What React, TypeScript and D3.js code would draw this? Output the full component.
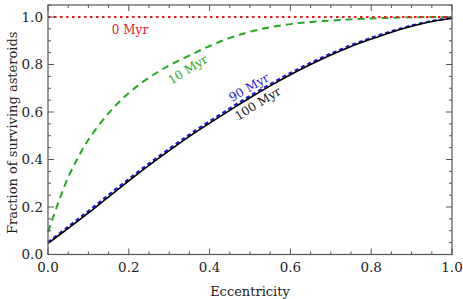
import React from "react";
import * as d3 from "d3";

const ecc = [0, 0.05, 0.1, 0.15, 0.2, 0.25, 0.3, 0.35, 0.4, 0.45, 0.5, 0.55, 0.6, 0.65, 0.7, 0.75, 0.8, 0.85, 0.9, 0.95, 1.0];
const myr0 = [1, 1, 1, 1, 1, 1, 1, 1, 1, 1, 1, 1, 1, 1, 1, 1, 1, 1, 1, 1, 1];
const eccGreen = [0, 0.025, 0.05, 0.075, 0.1, 0.15, 0.2, 0.25, 0.3, 0.35, 0.4, 0.45, 0.5, 0.55, 0.6, 0.65, 0.7, 0.75, 0.8, 0.85, 0.9, 0.95, 1.0];
const myr10 = [0.095, 0.216, 0.325, 0.41, 0.483, 0.595, 0.68, 0.745, 0.796, 0.838, 0.878, 0.912, 0.938, 0.957, 0.97, 0.979, 0.985, 0.99, 0.994, 0.997, 0.999, 1.0, 1.0];
const myr90 = [0.052, 0.117, 0.183, 0.251, 0.318, 0.383, 0.445, 0.505, 0.561, 0.615, 0.668, 0.717, 0.764, 0.807, 0.846, 0.881, 0.912, 0.94, 0.964, 0.983, 0.996];
const myr100 = [0.047, 0.11, 0.175, 0.243, 0.31, 0.375, 0.437, 0.497, 0.553, 0.607, 0.66, 0.71, 0.757, 0.8, 0.84, 0.876, 0.907, 0.936, 0.961, 0.981, 0.995];
const xTicks = [0, 0.2, 0.4, 0.6, 0.8, 1.0];
const yTicks = [0, 0.2, 0.4, 0.6, 0.8, 1.0];

const W = 463, H = 299;
const M = { left: 48, right: 452, top: 5, bottom: 254.5 };
const FONT = "DejaVu Serif";

export default function App() {
  const x = d3.scaleLinear().domain([0, 1]).range([M.left, M.right]);
  const y = d3.scaleLinear().domain([0, 1]).range([M.bottom, 17]);
  const line = d3.line<[number, number]>().x(d => x(d[0])).y(d => y(d[1])).curve(d3.curveCatmullRom.alpha(0.5));
  const zip = (xs: number[], ys: number[]) => xs.map((v, i) => [v, ys[i]] as [number, number]);
  const minorX = d3.range(0, 1.0001, 0.05);
  const minorY = d3.range(0, 1.0501, 0.05);
  const axisColor = "#555";
  return (
    <svg width={W} height={H} style={{ position: "absolute", left: 0, top: 0, background: "#fff" }} fontFamily={FONT}>
      <path d={line(zip(ecc, myr90)) || ""} fill="none" stroke="#1a1adc" strokeWidth={2.2} strokeDasharray="4,3" />
      <path d={line(zip(ecc, myr100)) || ""} fill="none" stroke="#000" strokeWidth={1.6} />
      <path d={line(zip(eccGreen, myr10)) || ""} fill="none" stroke="#22a822" strokeWidth={2} strokeDasharray="7,5" />
      <path d={line(zip(ecc, myr0)) || ""} fill="none" stroke="#e8191c" strokeWidth={2.2} strokeDasharray="2.5,3.5" />
      <rect x={M.left} y={M.top} width={M.right - M.left} height={M.bottom - M.top} fill="none" stroke={axisColor} strokeWidth={1.2} />
      {minorX.map((t, i) => {
        const major = Math.abs(t * 5 - Math.round(t * 5)) < 1e-6;
        const len = major ? 6 : 3;
        return (
          <g key={"x" + i} stroke={axisColor} strokeWidth={1}>
            <line x1={x(t)} x2={x(t)} y1={M.bottom} y2={M.bottom - len} />
            <line x1={x(t)} x2={x(t)} y1={M.top} y2={M.top + len} />
          </g>
        );
      })}
      {minorY.map((t, i) => {
        const major = Math.abs(t * 5 - Math.round(t * 5)) < 1e-6;
        const len = major ? 6 : 3;
        if (y(t) < M.top) return null;
        return (
          <g key={"y" + i} stroke={axisColor} strokeWidth={1}>
            <line x1={M.left} x2={M.left + len} y1={y(t)} y2={y(t)} />
            <line x1={M.right} x2={M.right - len} y1={y(t)} y2={y(t)} />
          </g>
        );
      })}
      {xTicks.map((t, i) => (
        <text key={"xl" + i} x={x(t)} y={272} textAnchor="middle" fontSize={13.5} fill="#222">{t.toFixed(1)}</text>
      ))}
      {yTicks.map((t, i) => (
        <text key={"yl" + i} x={43} y={y(t) + 4.5} textAnchor="end" fontSize={13.5} fill="#222">{t.toFixed(1)}</text>
      ))}
      <text x={250} y={296} textAnchor="middle" fontSize={13} fill="#222">Eccentricity</text>
      <text transform={`translate(17,${(M.top + M.bottom) / 2 + 3}) rotate(-90)`} textAnchor="middle" fontSize={13} fill="#222">Fraction of surviving asteroids</text>
      <text x={130} y={34} textAnchor="middle" fontSize={12} fill="#e8191c">0 Myr</text>
      <text transform="translate(190,73) rotate(-32)" textAnchor="middle" fontSize={12} fill="#22a822">10 Myr</text>
      <text transform="translate(251,91) rotate(-30)" textAnchor="middle" fontSize={12} fill="#1a1adc">90 Myr</text>
      <text transform="translate(260,107) rotate(-32)" textAnchor="middle" fontSize={12} fill="#111">100 Myr</text>
    </svg>
  );
}
